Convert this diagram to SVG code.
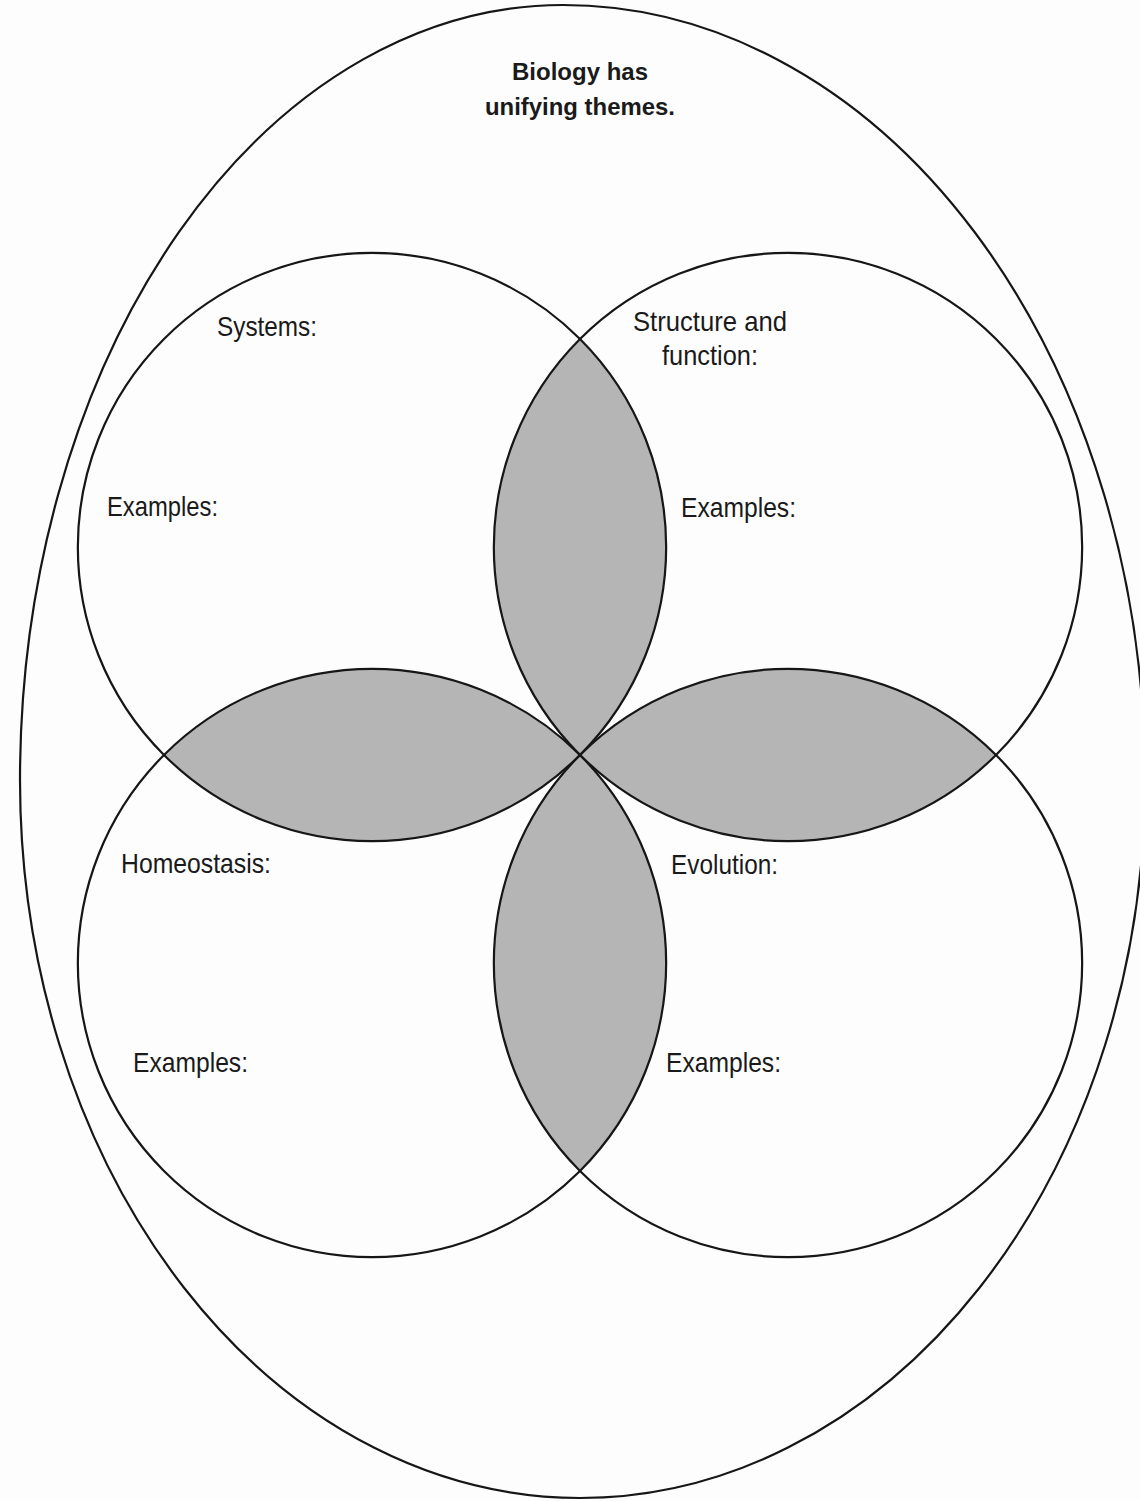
<svg xmlns="http://www.w3.org/2000/svg" width="1140" height="1501" viewBox="0 0 1140 1501">
<style>
.bg{fill:#fdfdfd}
.line{fill:none;stroke:#161616;stroke-width:2.2}
.lens{fill:#b5b5b5;stroke:none}
.lbl{font-family:"Liberation Sans",Arial,sans-serif;font-size:28px;fill:#1a1a1a}
.title{font-family:"Liberation Sans",Arial,sans-serif;font-size:24px;font-weight:bold;fill:#1a1a1a}
</style>
<rect class="bg" x="0" y="0" width="1140" height="1501"/>
<g id="lenses">
<path class="lens" d="M580,339 A294.16,294.16 0 0 1 580,755 A294.16,294.16 0 0 1 580,339 Z"/>
<path class="lens" d="M580,755 A294.16,294.16 0 0 1 580,1171 A294.16,294.16 0 0 1 580,755 Z"/>
<path class="lens" d="M164,755 A294.16,294.16 0 0 1 580,755 A294.16,294.16 0 0 1 164,755 Z"/>
<path class="lens" d="M580,755 A294.16,294.16 0 0 1 996,755 A294.16,294.16 0 0 1 580,755 Z"/>
</g>
<g id="outer">
<path class="line" d="M563,5 A582,775 0 0 1 1145,780 A565,718 0 0 1 580,1498 A560,718 0 0 1 20,780 A543,775 0 0 1 563,5 Z"/>
<text class="title" x="580" y="80" text-anchor="middle" textLength="136" lengthAdjust="spacingAndGlyphs">Biology has</text>
<text class="title" x="580" y="115" text-anchor="middle" textLength="190" lengthAdjust="spacingAndGlyphs">unifying themes.</text>
</g>
<g id="systems">
<circle class="line" cx="372" cy="547" r="294.16"/>
<text class="lbl" x="217" y="336" textLength="100" lengthAdjust="spacingAndGlyphs">Systems:</text>
<text class="lbl" x="107" y="516" textLength="111" lengthAdjust="spacingAndGlyphs">Examples:</text>
</g>
<g id="structure">
<circle class="line" cx="788" cy="547" r="294.16"/>
<text class="lbl" x="633" y="331" textLength="154" lengthAdjust="spacingAndGlyphs">Structure and</text>
<text class="lbl" x="662" y="365" textLength="96" lengthAdjust="spacingAndGlyphs">function:</text>
<text class="lbl" x="681" y="517" textLength="115" lengthAdjust="spacingAndGlyphs">Examples:</text>
</g>
<g id="homeostasis">
<circle class="line" cx="372" cy="963" r="294.16"/>
<text class="lbl" x="121" y="873" textLength="150" lengthAdjust="spacingAndGlyphs">Homeostasis:</text>
<text class="lbl" x="133" y="1072" textLength="115" lengthAdjust="spacingAndGlyphs">Examples:</text>
</g>
<g id="evolution">
<circle class="line" cx="788" cy="963" r="294.16"/>
<text class="lbl" x="671" y="874" textLength="107" lengthAdjust="spacingAndGlyphs">Evolution:</text>
<text class="lbl" x="666" y="1072" textLength="115" lengthAdjust="spacingAndGlyphs">Examples:</text>
</g>
<g id="connectors"></g>
</svg>
